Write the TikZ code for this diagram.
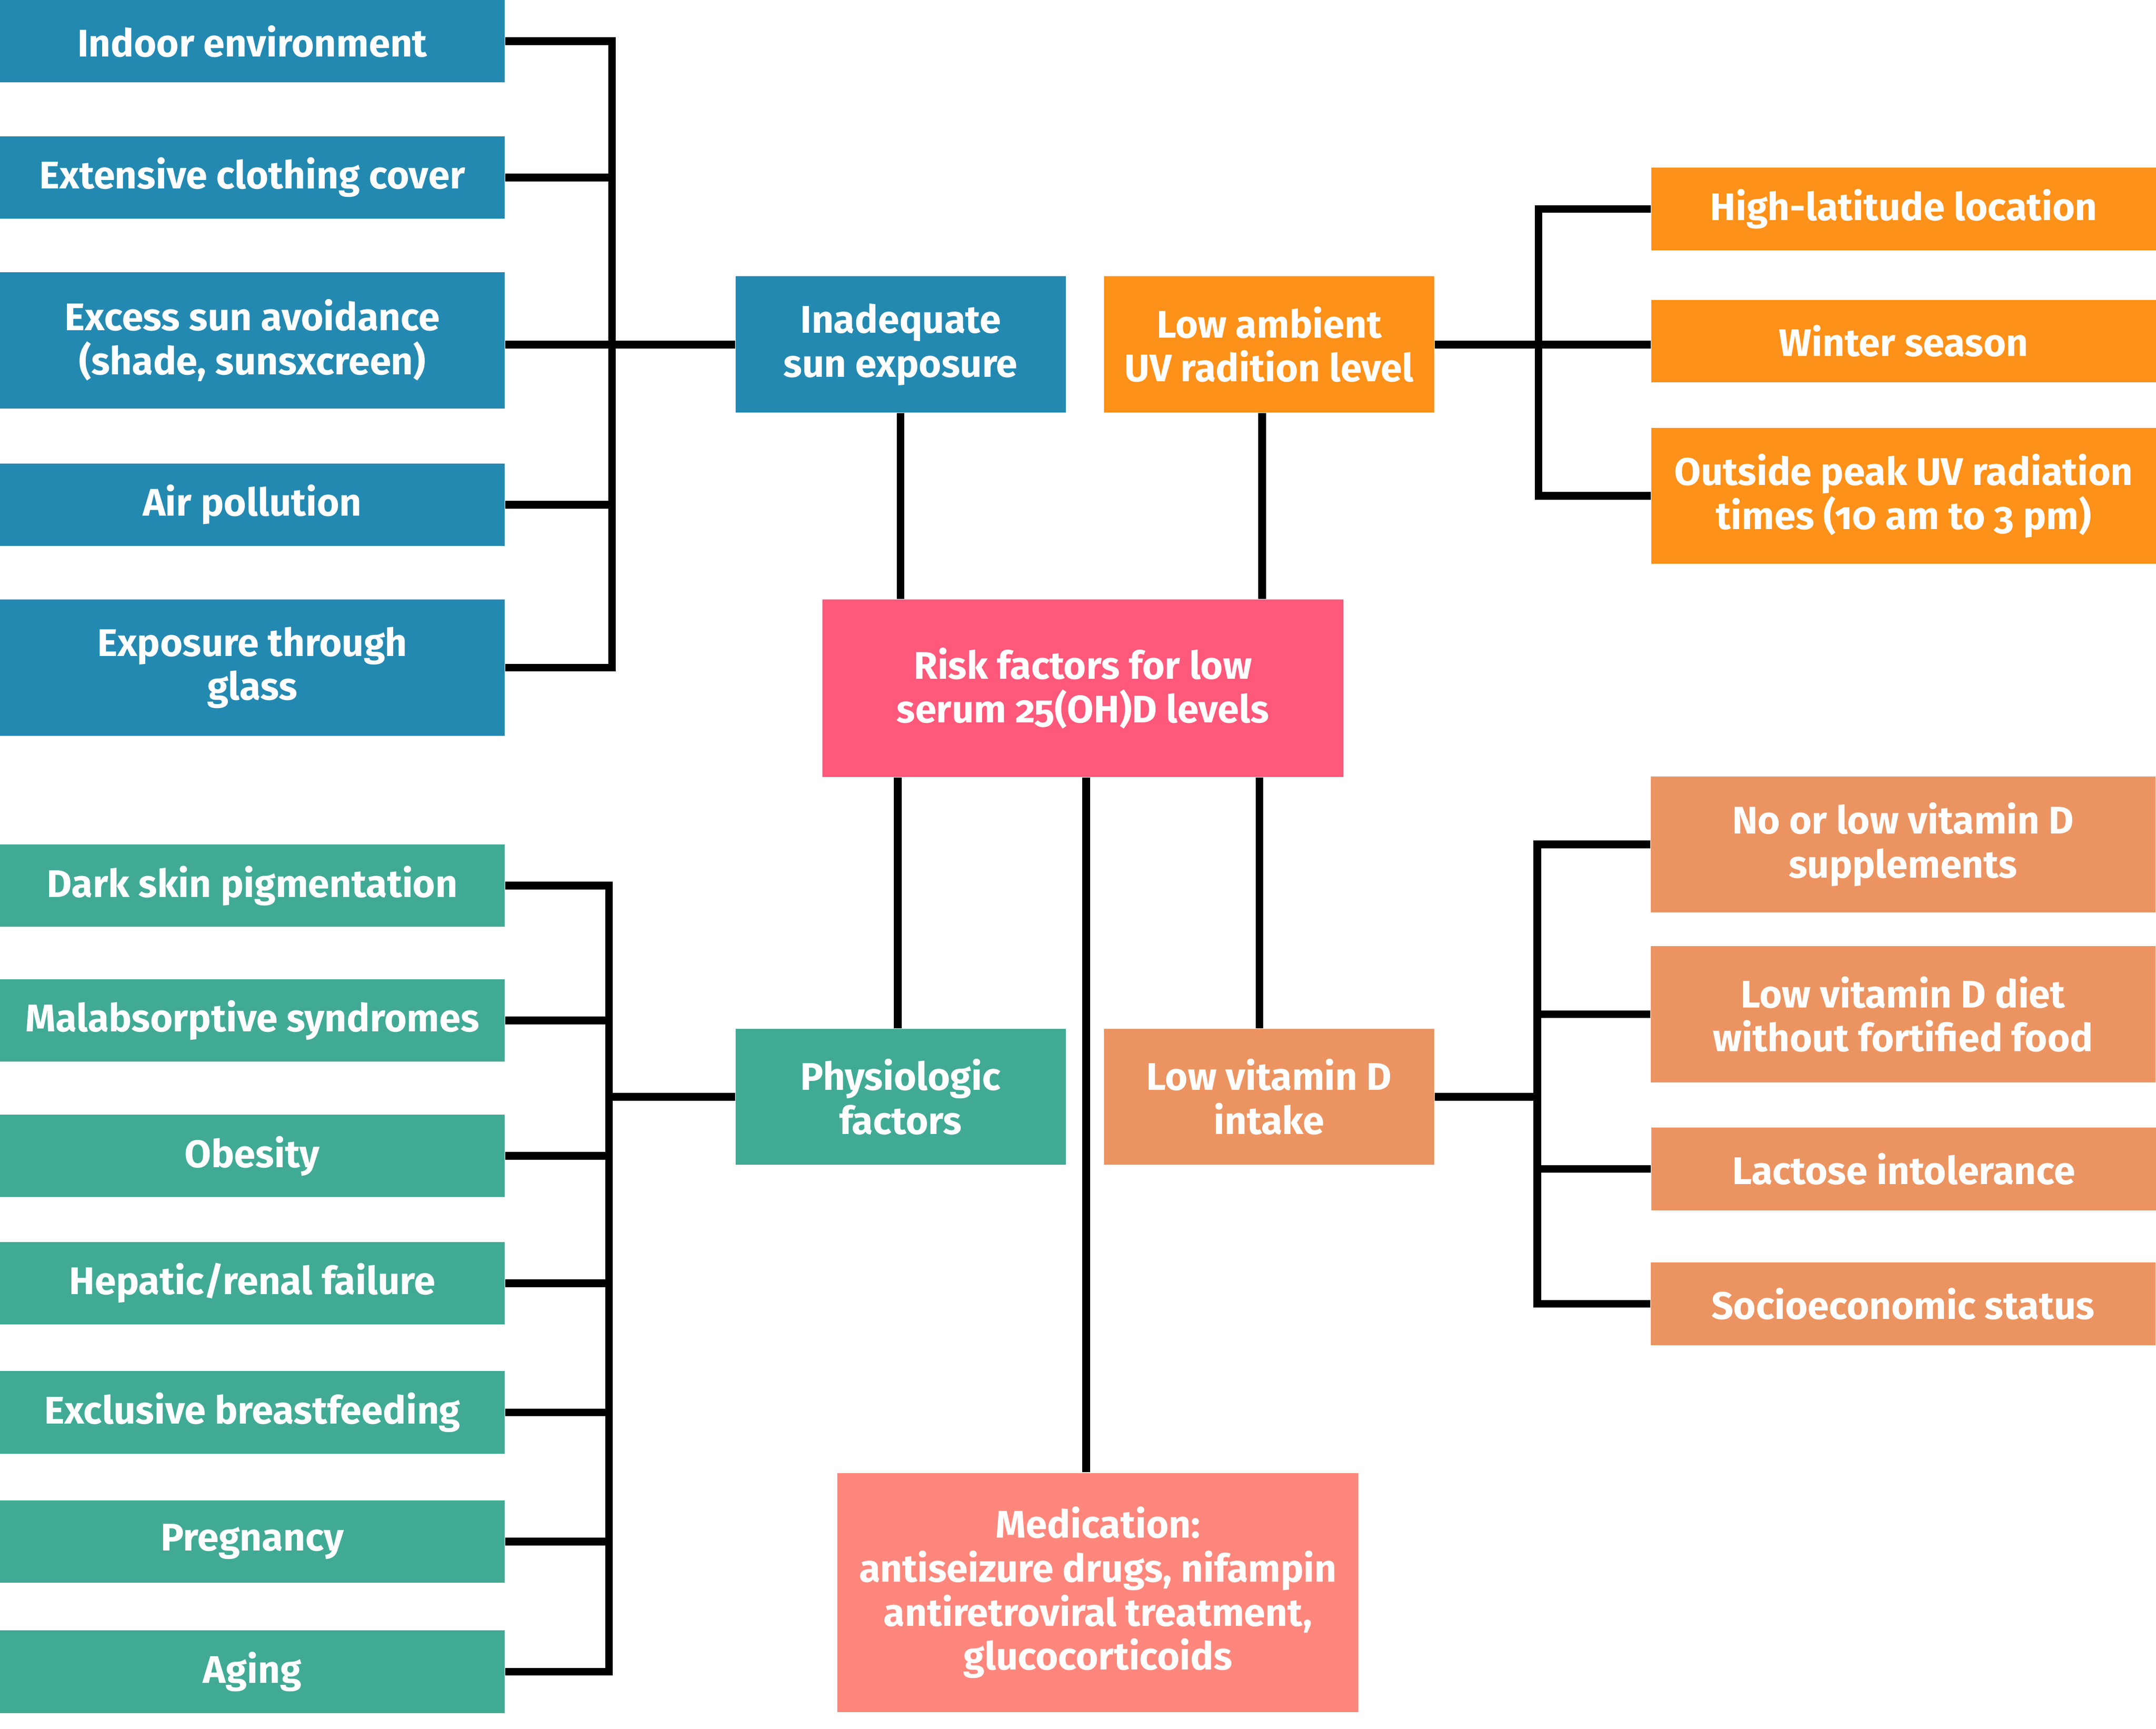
\documentclass[tikz,border=0pt]{standalone}
\usepackage{fontspec}
\setmainfont{Fira Sans}[Numbers=OldStyle]
\definecolor{cblue}{HTML}{2489B1}
\definecolor{corange}{HTML}{FE9119}
\definecolor{cpink}{HTML}{FE587A}
\definecolor{cgreen}{HTML}{41AA95}
\definecolor{csalmon}{HTML}{EB9462}
\definecolor{cmed}{HTML}{FD877C}
\tikzset{
  box/.style={rectangle, inner sep=2pt, align=center, text=white, anchor=center,
    font=\fontsize{14}{16}\selectfont\bfseries},
  sbox/.style={box, minimum width=183.5pt, minimum height=30pt},
  tbox/.style={box, minimum width=183.5pt, minimum height=49.5pt},
  mbox/.style={box, minimum width=120pt, minimum height=49.5pt},
  conn/.style={draw=black, line width=2.8pt, line join=miter},
}
\begin{document}
\begin{tikzpicture}[x=0.5pt,y=-0.5pt]
\useasboundingbox (0,0) rectangle (1568,1257);
% left blue
\node[sbox, fill=cblue] (i1) at (183.5,30) {Indoor environment};
\node[sbox, fill=cblue] (i2) at (183.5,129) {Extensive clothing cover};
\node[tbox, fill=cblue] (i3) at (183.5,247.5) {Excess sun avoidance\\(shade, sunsxcreen)};
\node[sbox, fill=cblue] (i4) at (183.5,367) {Air pollution};
\node[tbox, fill=cblue] (i5) at (183.5,485.5) {Exposure through\\glass};
% middle
\node[mbox, fill=cblue] (inad) at (655,250.5) {Inadequate\\sun exposure};
\node[mbox, fill=corange] (lowuv) at (923,250.5) {Low ambient\\UV radition level};
\node[box, fill=cpink, minimum width=189.5pt, minimum height=64.5pt] (risk) at (787.5,500.5) {Risk factors for low\\serum 25(OH)D levels};
\node[mbox, fill=cgreen] (phys) at (655,797.5) {Physiologic\\factors};
\node[mbox, fill=csalmon] (lowd) at (923,797.5) {Low vitamin D\\intake};
\node[box, fill=cmed, minimum width=189.5pt, minimum height=87pt] (med) at (798.5,1158) {Medication:\\antiseizure drugs, nifampin\\antiretroviral treatment,\\glucocorticoids};
% right orange
\node[sbox, fill=corange] (r1) at (1384.5,152) {High-latitude location};
\node[sbox, fill=corange] (r2) at (1384.5,248) {Winter season};
\node[tbox, fill=corange] (r3) at (1384.5,360.5) {Outside peak UV radiation\\times (10 am to 3 pm)};
% left green
\node[sbox, fill=cgreen] (g1) at (183.5,644) {Dark skin pigmentation};
\node[sbox, fill=cgreen] (g2) at (183.5,742) {Malabsorptive syndromes};
\node[sbox, fill=cgreen] (g3) at (183.5,840.5) {Obesity};
\node[sbox, fill=cgreen] (g4) at (183.5,933) {Hepatic/renal failure};
\node[sbox, fill=cgreen] (g5) at (183.5,1027) {Exclusive breastfeeding};
\node[sbox, fill=cgreen] (g6) at (183.5,1121) {Pregnancy};
\node[sbox, fill=cgreen] (g7) at (183.5,1215.5) {Aging};
% right salmon
\node[tbox, fill=csalmon] (s1) at (1384,614) {No or low vitamin D\\supplements};
\node[tbox, fill=csalmon] (s2) at (1384,737.5) {Low vitamin D diet\\without fortified food};
\node[sbox, fill=csalmon] (s3) at (1384.5,850) {Lactose intolerance};
\node[sbox, fill=csalmon] (s4) at (1384,948) {Socioeconomic status};
% bracket x coordinates
\coordinate (lbx) at (445,0);
\coordinate (rbx) at (1119,0);
\coordinate (glx) at (443,0);
\coordinate (srx) at (1118,0);
\coordinate (xa) at (655,0);
\coordinate (xb) at (918,0);
\coordinate (xc) at (653,0);
\coordinate (xd) at (790,0);
\coordinate (xe) at (916,0);
% left blue bracket
\draw[conn] (i1.east) -- (i1.east -| lbx) -- (i5.east -| lbx) -- (i5.east);
\draw[conn] (i2.east) -- (i2.east -| lbx);
\draw[conn] (i4.east) -- (i4.east -| lbx);
\draw[conn] (i3.east |- inad.west) -- (inad.west);
% right orange bracket
\draw[conn] (r1.west) -- (r1.west -| rbx) -- (r3.west -| rbx) -- (r3.west);
\draw[conn] (lowuv.east) -- (r2.west |- lowuv.east);
% center links
\draw[conn] (inad.south -| xa) -- (risk.north -| xa);
\draw[conn] (lowuv.south -| xb) -- (risk.north -| xb);
\draw[conn] (risk.south -| xc) -- (phys.north -| xc);
\draw[conn] (risk.south -| xd) -- (med.north -| xd);
\draw[conn] (risk.south -| xe) -- (lowd.north -| xe);
% left green bracket
\draw[conn] (g1.east) -- (g1.east -| glx) -- (g7.east -| glx) -- (g7.east);
\foreach \n in {g2,g3,g4,g5,g6} \draw[conn] (\n.east) -- (\n.east -| glx);
\draw[conn] (phys.west) -- (phys.west -| glx);
% right salmon bracket
\draw[conn] (s1.west) -- (s1.west -| srx) -- (s4.west -| srx) -- (s4.west);
\foreach \n in {s2,s3} \draw[conn] (\n.west) -- (\n.west -| srx);
\draw[conn] (lowd.east) -- (lowd.east -| srx);
\end{tikzpicture}
\end{document}
